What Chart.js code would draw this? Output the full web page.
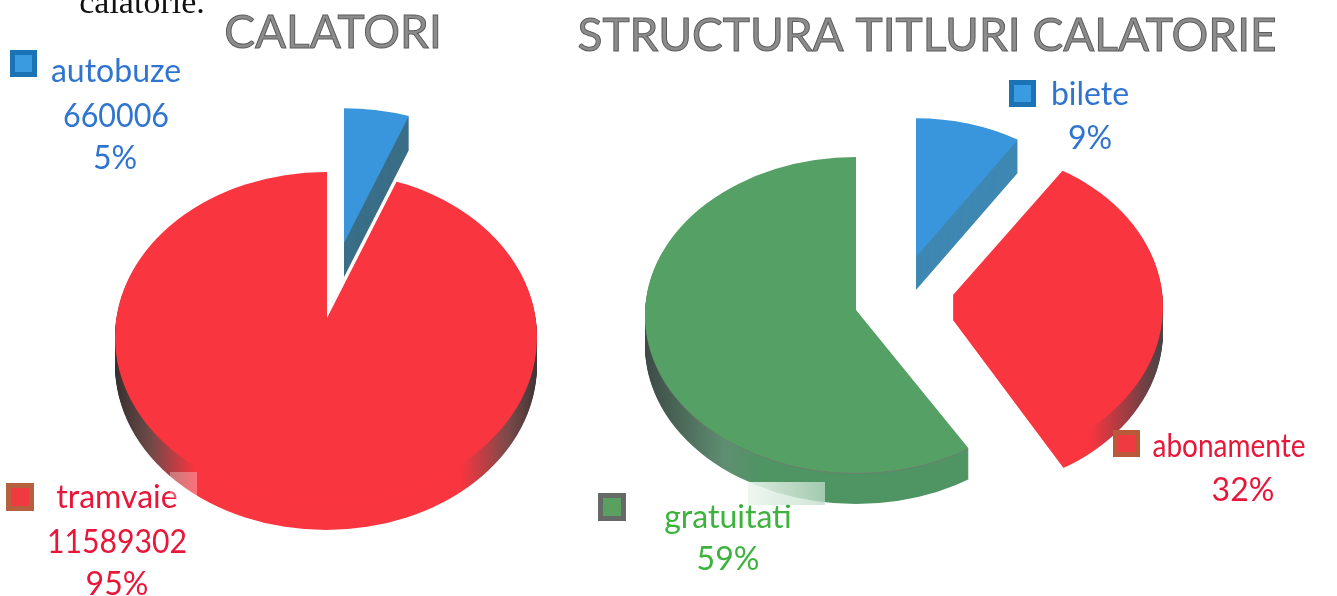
<!DOCTYPE html>
<html>
<head>
<meta charset="utf-8">
<title>Calatori</title>
<script src="https://cdn.jsdelivr.net/npm/chart.js@4"></script>
<style>
    html, body { margin: 0; padding: 0; background: #fff; overflow: hidden; }
    #page { position: relative; width: 1337px; height: 596px; }
    canvas { position: absolute; top: 0; }
    #pieLeft { left: 0; }
    #pieRight { left: 560px; }
    .patch { position: absolute; }
</style>
</head>
<body>
<div id="page">
    <canvas id="pieLeft" width="560" height="596"></canvas>
    <canvas id="pieRight" width="777" height="596"></canvas>
    <div class="patch" style="left:170px;top:472px;width:27px;height:26px;background:rgba(255,255,255,.3)"></div>
    <div class="patch" style="left:748px;top:482px;width:77px;height:23px;background:linear-gradient(90deg,rgba(235,245,238,.9),rgba(190,220,200,.75))"></div>
</div>
<script>
const calatoriLabels = ["autobuze", "tramvaie"];
const calatoriValues = [660006, 11589302];
const calatoriPercent = ["5%", "95%"];

const titluriLabels = ["bilete", "abonamente", "gratuitati"];
const titluriValues = [9, 32, 59];
const titluriPercent = ["9%", "32%", "59%"];

const BLUE = "#3a96dc";
const RED = "#f9353f";
const GREEN = "#55a065";
const TEXT_FONT = "32px Lato";
const TITLE_FONT = "46px Lato";

// draws the arcs the library laid out, squashed and extruded so they look like the 3D pie
const tiltPlugin = {
    id: "tilt",
    beforeDatasetsDraw(chart, args, opts) {
        const ctx = chart.ctx;
        const arcs = chart.getDatasetMeta(0).data;
        opts.slices.forEach((s, i) => {
            const el = arcs[i];
            const side = sideFill(ctx, s, el);
            for (let d = s.depth; d >= 1; d--) {
                drawSlice(chart, el, s, d, d === 1 && s.rim ? s.rim : side);
            }
            drawSlice(chart, el, s, 0, el.options.backgroundColor);
        });
        return false;
    },
    afterDraw(chart, args, opts) {
        const ctx = chart.ctx;
        ctx.save();
        opts.extraText.forEach(t => {
            ctx.font = t.font;
            ctx.fillStyle = t.color;
            ctx.textAlign = "center";
            ctx.fillText(t.text, t.x, t.y, t.maxWidth);
            if (t.stroke) {
                ctx.strokeStyle = t.stroke;
                ctx.lineWidth = 1;
                ctx.strokeText(t.text, t.x, t.y, t.maxWidth);
            }
        });
        opts.keys.forEach(k => {
            ctx.fillStyle = k.border;
            ctx.fillRect(k.x, k.y, k.size, k.size);
            ctx.fillStyle = k.fill;
            ctx.fillRect(k.x + 5, k.y + 5, k.size - 10, k.size - 10);
        });
        ctx.restore();
    }
};

function sideFill(ctx, s, el) {
    if (typeof s.side === "string") return s.side;
    // gradient is resolved inside the slice transform, so map canvas x back to arc space
    const local = x => el.x + (x - el.x - s.shift[0]) / s.k;
    const g = ctx.createLinearGradient(local(s.side.from), 0, local(s.side.to), 0);
    s.side.stops.forEach(st => g.addColorStop(st[0], st[1]));
    return g;
}

function drawSlice(chart, el, s, d, fill) {
    const ctx = chart.ctx;
    const keep = el.options;
    el.options = {
        backgroundColor: fill, borderColor: fill, borderWidth: 0, borderAlign: "center",
        borderRadius: 0, offset: 0, spacing: 0, circular: true
    };
    const ax = el.x + s.shift[0];
    const ay = el.y + s.shift[1] + d;
    [[s.top, ay - 700, 700.5], [s.bottom, ay, 700]].forEach(part => {
        ctx.save();
        if (s.outline) {
            // perspective: the rim is an ellipse that does not sit on the slice's apex
            ctx.beginPath();
            ctx.ellipse(s.outline.x, s.outline.y + d, s.outline.rx, s.outline.ry, 0, 0, Math.PI * 2);
            ctx.clip();
        }
        ctx.beginPath();
        ctx.rect(0, part[1], chart.width, part[2]);
        ctx.clip();
        ctx.translate(ax, ay);
        ctx.scale(s.k, s.k * part[0]);
        ctx.translate(-el.x, -el.y);
        el.draw(ctx);
        ctx.restore();
    });
    el.options = keep;
}

function pie(id, labels, values, colors, padding, tilt) {
    return new Chart(document.getElementById(id), {
        type: "pie",
        data: {
            labels: labels,
            datasets: [{ data: values, backgroundColor: colors, borderWidth: 0, radius: 210 }]
        },
        options: {
            responsive: false,
            animation: false,
            layout: { padding: padding },
            plugins: { legend: { display: false }, tooltip: { enabled: false }, tilt: tilt }
        },
        plugins: [tiltPlugin]
    });
}

pie("pieLeft", calatoriLabels, calatoriValues, [BLUE, RED],
    { left: 94, top: 40 },
    {
        slices: [
            { shift: [17, -75], k: 0.93, top: 0.69, bottom: 0.69, depth: 34, side: "#3b6f88" },
            {
                shift: [0, 0], k: 1.5, top: 0.69, bottom: 0.87, depth: 28,
                outline: { x: 326, y: 337, rx: 211, ry: 165 },
                side: { from: 115, to: 537, stops: [[0, "#33302f"], [0.08, "#6b4a48"], [0.19, RED], [0.82, RED], [0.93, "#7d4a4a"], [1, "#3e3636"]] }
            }
        ],
        extraText: [
            { text: "calatorie.", x: 142, y: 13, font: "34px 'Liberation Serif'", color: "#111" },
            { text: "CALATORI", x: 333, y: 48, font: TITLE_FONT, color: "#8c8c8c", stroke: "#5c5c5c" },
            { text: calatoriLabels[0], x: 116, y: 82, font: TEXT_FONT, color: "#2f75d0" },
            { text: String(calatoriValues[0]), x: 116, y: 127, font: TEXT_FONT, color: "#2f75d0", maxWidth: 106 },
            { text: calatoriPercent[0], x: 115, y: 169, font: TEXT_FONT, color: "#2f75d0" },
            { text: calatoriLabels[1], x: 117, y: 508, font: TEXT_FONT, color: "#e8173a" },
            { text: String(calatoriValues[1]), x: 117, y: 553, font: TEXT_FONT, color: "#e8173a", maxWidth: 140 },
            { text: calatoriPercent[1], x: 117, y: 595, font: TEXT_FONT, color: "#e8173a" }
        ],
        keys: [
            { x: 10, y: 50, size: 27, border: "#1a73b5", fill: "#3a9be0" },
            { x: 6, y: 483, size: 28, border: "#b5613f", fill: "#f03a42" }
        ]
    });

pie("pieRight", titluriLabels, titluriValues, [BLUE, RED, GREEN],
    { right: 185, top: 24 },
    {
        slices: [
            { shift: [60, -53], k: 0.905, top: 0.73, bottom: 0.73, depth: 33, side: "#3f88b3" },
            {
                shift: [97, -15], k: 1.4, top: 0.72, bottom: 0.85, depth: 25,
                outline: { x: 393, y: 307, rx: 210, ry: 160 },
                side: { from: 530, to: 600, stops: [[0, RED], [1, "#4a4446"]] }
            },
            {
                shift: [0, 0], k: 1.4, top: 0.72, bottom: 0.78, depth: 31, rim: "#6d7f70",
                outline: { x: 296, y: 315, rx: 211, ry: 158 },
                side: { from: 85, to: 200, stops: [[0, "#3c4a45"], [0.7, "#5f8f72"], [1, "#4f9463"]] }
            }
        ],
        extraText: [
            { text: "STRUCTURA TITLURI CALATORIE", x: 367, y: 51, font: TITLE_FONT, color: "#8c8c8c", stroke: "#5c5c5c" },
            { text: titluriLabels[0], x: 530, y: 105, font: TEXT_FONT, color: "#2f75d0" },
            { text: titluriPercent[0], x: 530, y: 149, font: TEXT_FONT, color: "#2f75d0" },
            { text: titluriLabels[1], x: 669, y: 457, font: TEXT_FONT, color: "#e8173a", maxWidth: 153 },
            { text: titluriPercent[1], x: 683, y: 501, font: TEXT_FONT, color: "#e8173a" },
            { text: titluriLabels[2], x: 168, y: 528, font: TEXT_FONT, color: "#3db33d" },
            { text: titluriPercent[2], x: 168, y: 570, font: TEXT_FONT, color: "#3db33d" }
        ],
        keys: [
            { x: 449, y: 80, size: 27, border: "#1a73b5", fill: "#3a9be0" },
            { x: 553, y: 430, size: 27, border: "#b9593a", fill: "#f03a42" },
            { x: 38, y: 493, size: 28, border: "#666a66", fill: "#5aa060" }
        ]
    });
</script>
</body>
</html>
